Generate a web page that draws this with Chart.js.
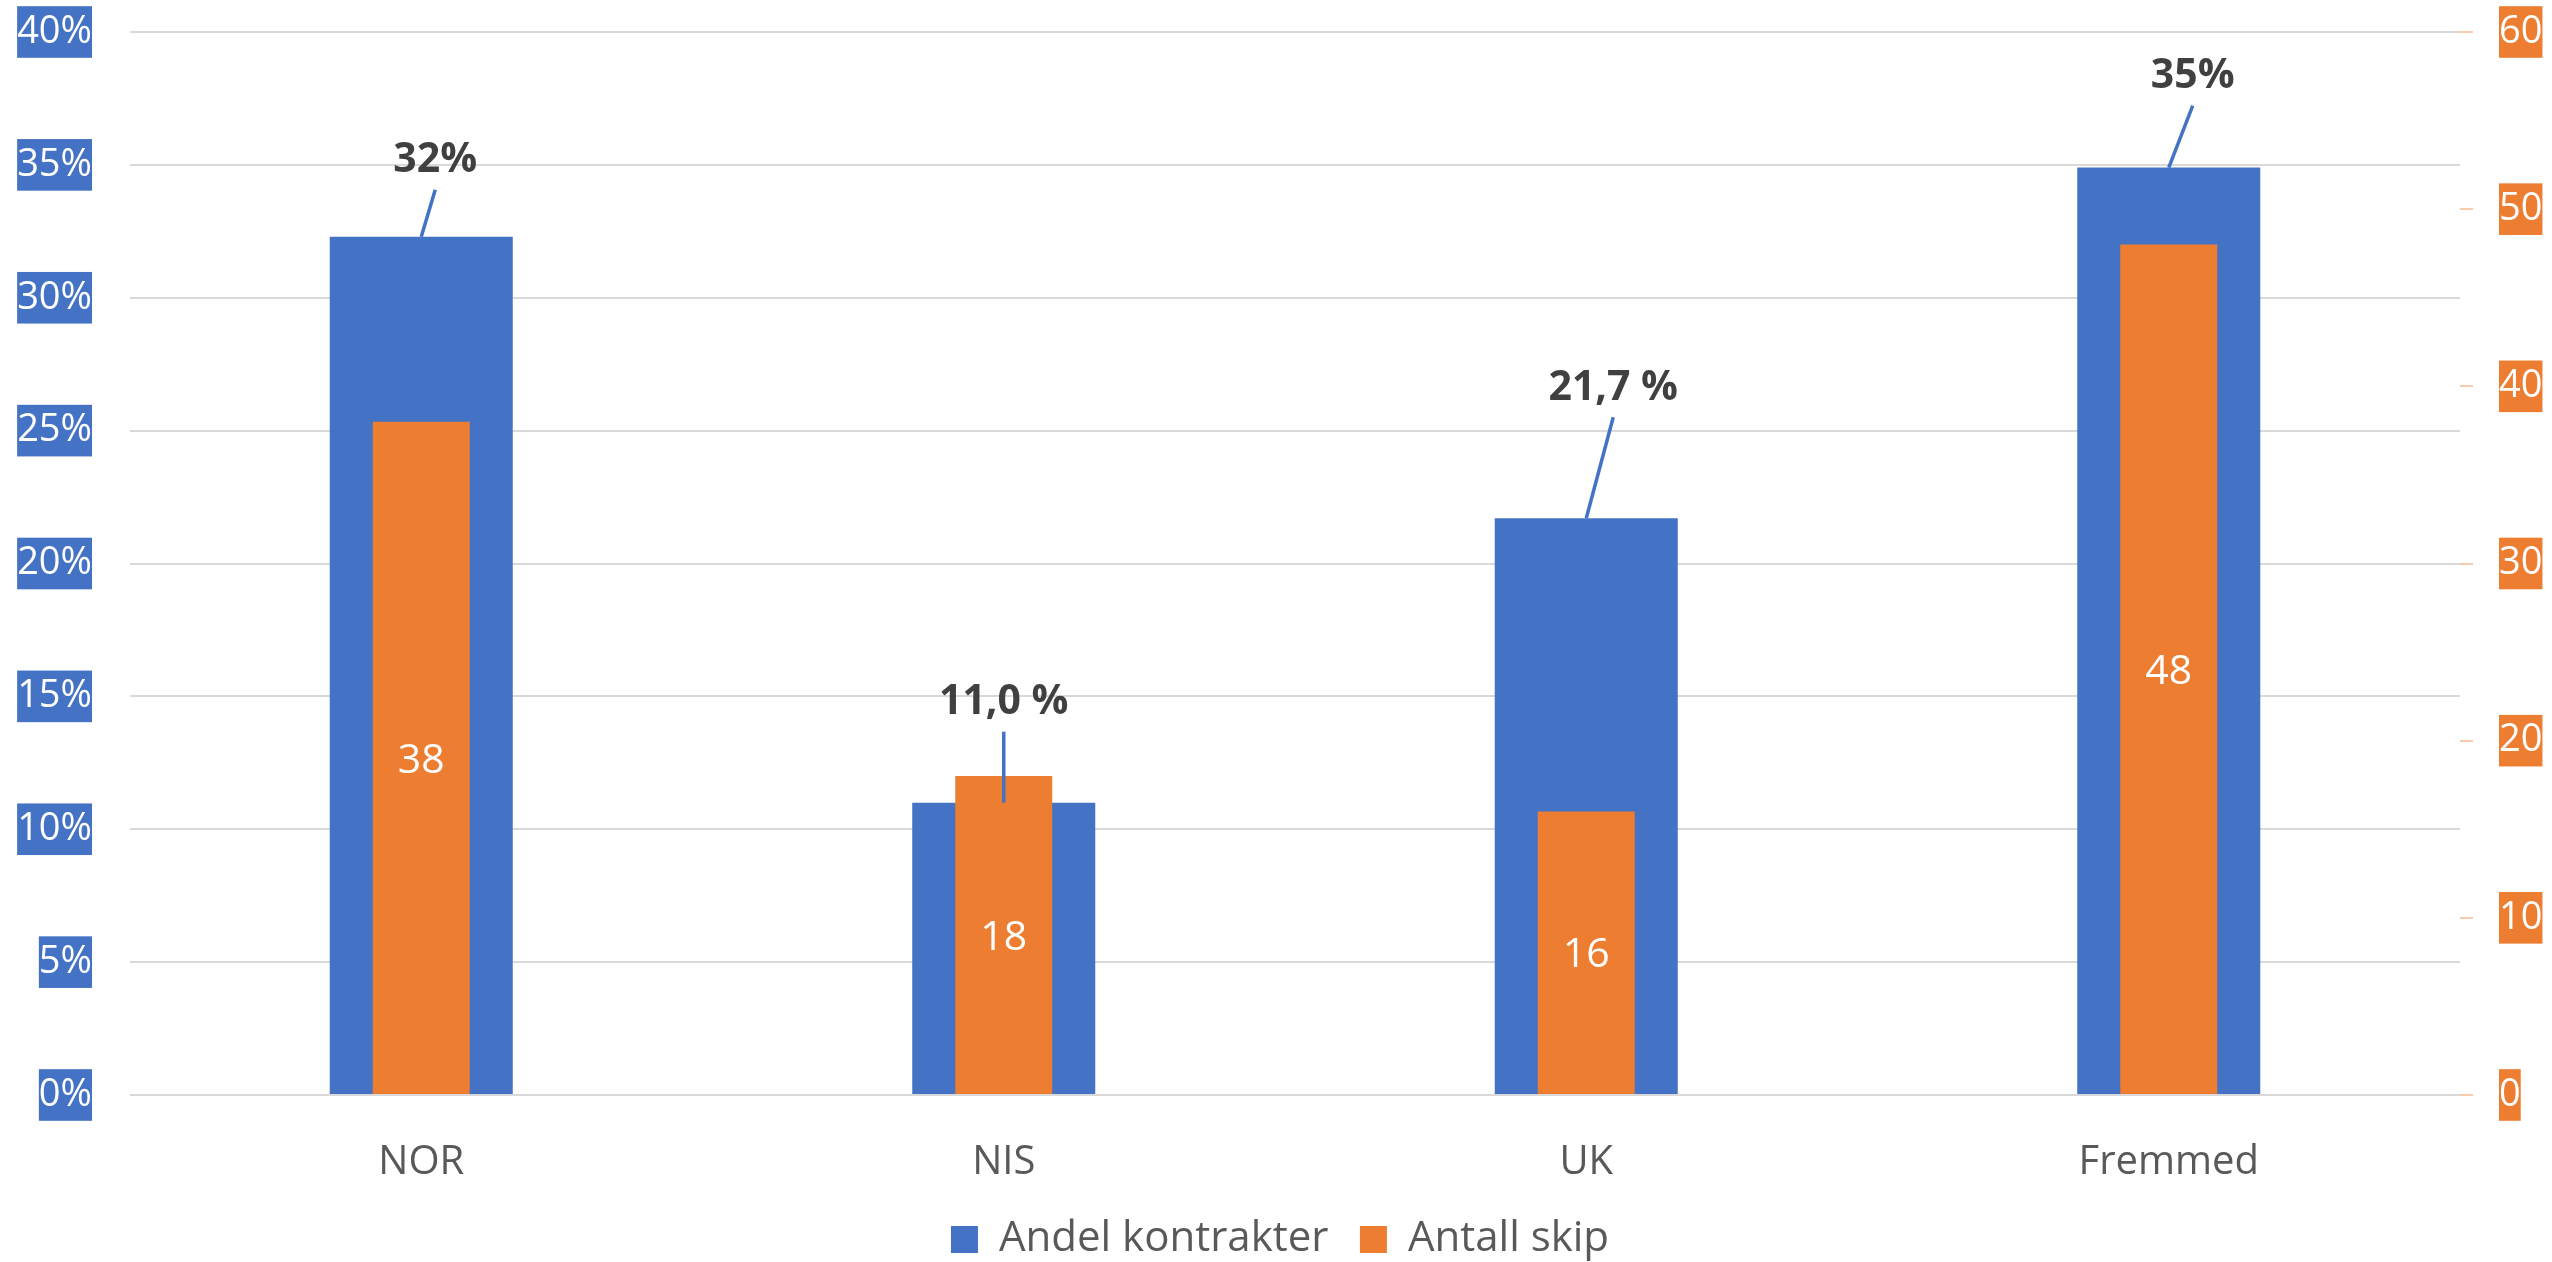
<!DOCTYPE html>
<html>
<head>
<meta charset="utf-8">
<script src="https://cdn.jsdelivr.net/npm/chart.js@4/dist/chart.umd.min.js"></script>
<style>
html,body{margin:0;padding:0;background:#fff;}
canvas{display:block;}
</style>
</head>
<body>
<canvas id="c" width="2552" height="1262"></canvas>
<script>
// ---- data ----
const categories = ['NOR', 'NIS', 'UK', 'Fremmed'];
const shareValues = [32.3, 11.0, 21.7, 34.9];           // Andel kontrakter (%)
const shareLabels = ['32%', '11,0 %', '21,7 %', '35%'];
const shipValues = [38, 18, 16, 48];                    // Antall skip
const seriesNames = ['Andel kontrakter', 'Antall skip'];
const leftTicks = [0, 5, 10, 15, 20, 25, 30, 35, 40];
const rightTicks = [0, 10, 20, 30, 40, 50, 60];

// ---- style ----
const BLUE = '#4472C4';
const ORANGE = '#ED7D31';
const FONT = "'Open Sans', 'DejaVu Sans', sans-serif";
// leader-line offsets (px) from bar top centre to label anchor
const leaderOffsets = [[14, -47], [0, -71], [27, -101], [24, -62]];

const labelPlugin = {
  id: 'barLabels',
  afterDatasetsDraw(chart) {
    const ctx = chart.ctx;
    const mBlue = chart.getDatasetMeta(0);
    ctx.save();
    mBlue.data.forEach((el, i) => {
      const [dx, dy] = leaderOffsets[i];
      const x0 = el.x, y0 = el.y;
      const x1 = x0 + dx, y1 = y0 + dy;
      ctx.strokeStyle = BLUE;
      ctx.lineWidth = 3.5;
      ctx.beginPath();
      ctx.moveTo(x0, y0);
      ctx.lineTo(x1, y1);
      ctx.stroke();
      ctx.fillStyle = '#404040';
      ctx.font = "bold 41px " + FONT;
      ctx.textAlign = 'center';
      ctx.textBaseline = 'middle';
      ctx.fillText(shareLabels[i], x1, y1 - 29);
    });
    const mOr = chart.getDatasetMeta(1);
    mOr.data.forEach((el, i) => {
      ctx.fillStyle = '#FFFFFF';
      ctx.font = "41px " + FONT;
      ctx.textAlign = 'center';
      ctx.textBaseline = 'middle';
      ctx.fillText(String(shipValues[i]), el.x, (el.y + el.base) / 2 + 3);
    });
    ctx.restore();
  }
};

new Chart(document.getElementById('c'), {
  type: 'bar',
  data: {
    labels: categories,
    datasets: [
      {
        label: seriesNames[0],
        data: shareValues,
        backgroundColor: BLUE,
        yAxisID: 'y',
        grouped: false,
        barPercentage: 0.3142,
        categoryPercentage: 1,
        order: 1,
        borderWidth: 0
      },
      {
        label: seriesNames[1],
        data: shipValues,
        backgroundColor: ORANGE,
        yAxisID: 'y1',
        grouped: false,
        barPercentage: 0.1665,
        categoryPercentage: 1,
        order: 0,
        borderWidth: 0
      }
    ]
  },
  options: {
    responsive: false,
    devicePixelRatio: 1,
    animation: false,
    layout: { padding: { left: 17, right: 9, top: 32, bottom: -8.5 } },
    plugins: {
      tooltip: { enabled: false },
      legend: {
        position: 'bottom',
        labels: {
          sort: (a, b) => a.datasetIndex - b.datasetIndex,
          boxWidth: 27,
          boxHeight: 27,
          padding: 31.5,
          color: '#595959',
          font: { family: FONT, size: 42 }
        }
      }
    },
    scales: {
      x: {
        grid: { display: false, drawTicks: false },
        border: { display: false },
        ticks: { color: '#595959', font: { family: FONT, size: 40 }, padding: 44 },
        afterFit: (s) => { s.height = 92; s.paddingLeft = 0; s.paddingRight = 0; }
      },
      y: {
        position: 'left',
        min: 0, max: 40,
        afterBuildTicks: (s) => { s.ticks = leftTicks.map(v => ({ value: v })); },
        afterFit: (s) => { s.width = 113; s.paddingTop = 0; s.paddingBottom = 0; },
        grid: { color: '#D9D9D9', lineWidth: 2, drawTicks: false },
        border: { display: false },
        ticks: {
          color: '#FFFFFF',
          font: { family: FONT, size: 38 },
          padding: 38,
          callback: (v) => v + '%',
          showLabelBackdrop: true,
          backdropColor: BLUE,
          backdropPadding: { top: 3, bottom: 3, left: 0, right: 0 }
        }
      },
      y1: {
        position: 'right',
        min: 0, max: 60,
        afterBuildTicks: (s) => { s.ticks = rightTicks.map(v => ({ value: v })); },
        afterFit: (s) => { s.width = 83; s.paddingTop = 0; s.paddingBottom = 0; },
        grid: { drawOnChartArea: false, drawTicks: true, tickLength: 13, tickColor: '#F8CBAD', color: '#F8CBAD', lineWidth: 2 },
        border: { display: false },
        ticks: {
          color: '#FFFFFF',
          font: { family: FONT, size: 38 },
          padding: 26,
          showLabelBackdrop: true,
          backdropColor: ORANGE,
          backdropPadding: { top: 3, bottom: 3, left: 0, right: 0 }
        }
      }
    }
  },
  plugins: [labelPlugin]
});
</script>
</body>
</html>
